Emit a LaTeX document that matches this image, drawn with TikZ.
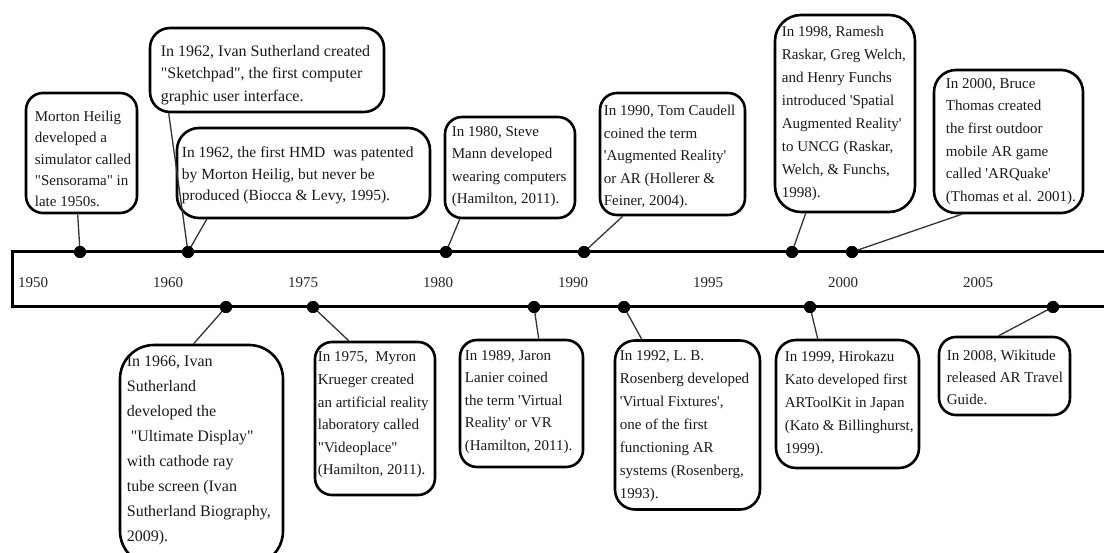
\documentclass[tikz,border=0pt]{standalone}
\usepackage{fontspec}
\setmainfont{Liberation Serif}[Ligatures=TeXOff]
\usetikzlibrary{calc}
\begin{document}
\begin{tikzpicture}[x=1pt,y=-1pt,
  box/.style={draw=black, line width=2.6pt, rounded corners=17pt, inner sep=0pt},
  txt/.style={anchor=west, align=left, inner sep=0pt, text=black!90,
    font=\fontsize{15}{22.6}\selectfont},
  dotn/.style={circle, fill=black, inner sep=0pt, minimum size=12pt},
  conn/.style={line width=1.3pt, draw=black!80},
  band/.style={line width=3pt, draw=black},
  yr/.style={font=\fontsize{15}{18}\selectfont, text=black!85, anchor=base, inner sep=0pt}]
\useasboundingbox (0,0) rectangle (1104,553);
\clip (0,0) rectangle (1104,553);

% timeline band
\coordinate (tr) at (1110,252);
\coordinate (tl) at (12,252);
\coordinate (bl) at (12,307);
\coordinate (br) at (1110,307);
\draw[band] (tr) -- (tl) -- (bl) -- (br);

% year labels
\node[yr] (y1950) at (33,288) {1950};
\node[yr] (y1960) at (168,288) {1960};
\node[yr] (y1975) at (303,288) {1975};
\node[yr] (y1980) at (438,288) {1980};
\node[yr] (y1990) at (573,288) {1990};
\node[yr] (y1995) at (708,288) {1995};
\node[yr] (y2000) at (843,288) {2000};
\node[yr] (y2005) at (978,288) {2005};

% ---------- top boxes ----------
\node[box, minimum width=111pt, minimum height=120pt] (b1) at (81.5,153) {};
\node[txt, font=\fontsize{15}{21.3}\selectfont] (t1) at ($(b1.west)+(10,6)$)
 {Morton Heilig\\ developed a\\ simulator called\\ "Sensorama" in\\ late 1950s.};

\node[box, rounded corners=20pt, minimum width=234pt, minimum height=84pt] (b2) at (267,70) {};
\node[txt, font=\fontsize{16}{22.5}\selectfont] (t2) at ($(b2.west)+(12,5)$)
 {In 1962, Ivan Sutherland created\\ "Sketchpad", the first computer\\ graphic user interface.};

\node[box, rounded corners=22pt, minimum width=253pt, minimum height=90pt] (b3) at (303.5,173) {};
\node[txt, font=\fontsize{15.5}{21.3}\selectfont] (t3) at ($(b3.west)+(6,2.5)$)
 {In 1962, the first HMD\ \ was patented\\ by Morton Heilig, but never be\\ produced (Biocca \& Levy, 1995).};

\node[box, minimum width=130pt, minimum height=101pt] (b4) at (510,167.5) {};
\node[txt, font=\fontsize{15}{22.3}\selectfont] (t4) at ($(b4.west)+(8,-1)$)
 {In 1980, Steve\\ Mann developed\\ wearing computers\\ (Hamilton, 2011).};

\node[box, minimum width=145pt, minimum height=122pt] (b5) at (672.5,154) {};
\node[txt] (t5) at ($(b5.west)+(5,3)$)
 {In 1990, Tom Caudell\\ coined the term\\ 'Augmented Reality'\\ or AR (Hollerer \&\\ Feiner, 2004).};

\node[box, rounded corners=26pt, minimum width=140pt, minimum height=197pt] (b6) at (845,113.5) {};
\node[txt, font=\fontsize{15}{22.9}\selectfont] (t6) at ($(b6.west)+(8,0)$)
 {In 1998, Ramesh\\ Raskar, Greg Welch,\\ and Henry Funchs\\ introduced 'Spatial\\ Augmented Reality'\\ to UNCG (Raskar,\\ Welch, \& Funchs,\\ 1998).};

\node[box, rounded corners=22pt, minimum width=149pt, minimum height=143pt] (b7) at (1008.5,141.5) {};
\node[txt, font=\fontsize{15}{22.7}\selectfont] (t7) at ($(b7.west)+(13,0)$)
 {In 2000, Bruce\\ Thomas created\\ the first outdoor\\ mobile AR game\\ called 'ARQuake'\\ (Thomas et al. 2001).};

% ---------- bottom boxes ----------
\node[box, rounded corners=34pt, minimum width=163pt, minimum height=220pt] (b8) at (201.5,455) {};
\node[txt, font=\fontsize{16}{25}\selectfont] (t8) at ($(b8.west)+(8,-4.5)$)
 {In 1966, Ivan\\ Sutherland\\ developed the\\ \hspace*{4pt}"Ultimate Display"\\ with cathode ray\\ tube screen (Ivan\\ Sutherland Biography,\\ 2009).};

\node[box, minimum width=120pt, minimum height=153pt] (b9) at (375,418.5) {};
\node[txt] (t9) at ($(b9.west)+(4,-3.5)$)
 {In 1975,\ \ Myron\\ Krueger created\\ an artificial reality\\ laboratory called\\ "Videoplace"\\ (Hamilton, 2011).};

\node[box, minimum width=123pt, minimum height=127pt] (b10) at (521.5,403.5) {};
\node[txt] (t10) at ($(b10.west)+(6,-1.5)$)
 {In 1989, Jaron\\ Lanier coined\\ the term 'Virtual\\ Reality' or VR\\ (Hamilton, 2011).};

\node[box, rounded corners=20pt, minimum width=145pt, minimum height=169pt] (b11) at (687.5,425) {};
\node[txt, font=\fontsize{15}{22.9}\selectfont] (t11) at ($(b11.west)+(6,1)$)
 {In 1992, L. B.\\ Rosenberg developed\\ 'Virtual Fixtures',\\ one of the first\\ functioning AR\\ systems (Rosenberg,\\ 1993).};

\node[box, rounded corners=20pt, minimum width=143pt, minimum height=128pt] (b12) at (847.5,404) {};
\node[txt, font=\fontsize{15}{22.9}\selectfont] (t12) at ($(b12.west)+(10,0)$)
 {In 1999, Hirokazu\\ Kato developed first\\ ARToolKit in Japan\\ (Kato \& Billinghurst,\\ 1999).};

\node[box, minimum width=131pt, minimum height=78pt] (b13) at (1004.5,376) {};
\node[txt, font=\fontsize{15}{22.4}\selectfont] (t13) at ($(b13.west)+(9,1.5)$)
 {In 2008, Wikitude\\ released AR Travel\\ Guide.};

% dots
\node[dotn] (d1) at (80,252) {};
\node[dotn] (d2) at (188,252) {};
\node[dotn] (d4) at (446,252) {};
\node[dotn] (d5) at (584,252) {};
\node[dotn] (d6) at (792,252) {};
\node[dotn] (d7) at (852,252) {};
\node[dotn] (d8) at (226,307) {};
\node[dotn] (d9) at (313,307) {};
\node[dotn] (d10) at (534,307) {};
\node[dotn] (d11) at (624,307) {};
\node[dotn] (d12) at (810,307) {};
\node[dotn] (d13) at (1053,307) {};

% connectors
\draw[conn] ($(b1.south west)+(53,0)$) -- (d1.center);
\draw[conn] ($(b2.south west)+(20,0)$) -- (d2.center);
\draw[conn] ($(b3.south west)+(31,0)$) -- (d2.center);
\draw[conn] ($(b4.south west)+(16,0)$) -- (d4.center);
\draw[conn] ($(b5.south west)+(24,0)$) -- (d5.center);
\draw[conn] ($(b6.south west)+(32,0)$) -- (d6.center);
\draw[conn] ($(b7.south west)+(29,0)$) -- (d7.center);
\draw[conn] ($(b8.north west)+(75,0)$) -- (d8.center);
\draw[conn] ($(b9.north west)+(35,0)$) -- (d9.center);
\draw[conn] ($(b10.north west)+(80,0)$) -- (d10.center);
\draw[conn] ($(b11.north west)+(28,0)$) -- (d11.center);
\draw[conn] ($(b12.north west)+(43,0)$) -- (d12.center);
\draw[conn] ($(b13.north west)+(61,0)$) -- (d13.center);

% dots on top of connectors
\foreach \d in {d1,d2,d4,d5,d6,d7,d8,d9,d10,d11,d12,d13}
  \fill[black] (\d.center) circle (6pt);
\end{tikzpicture}
\end{document}
